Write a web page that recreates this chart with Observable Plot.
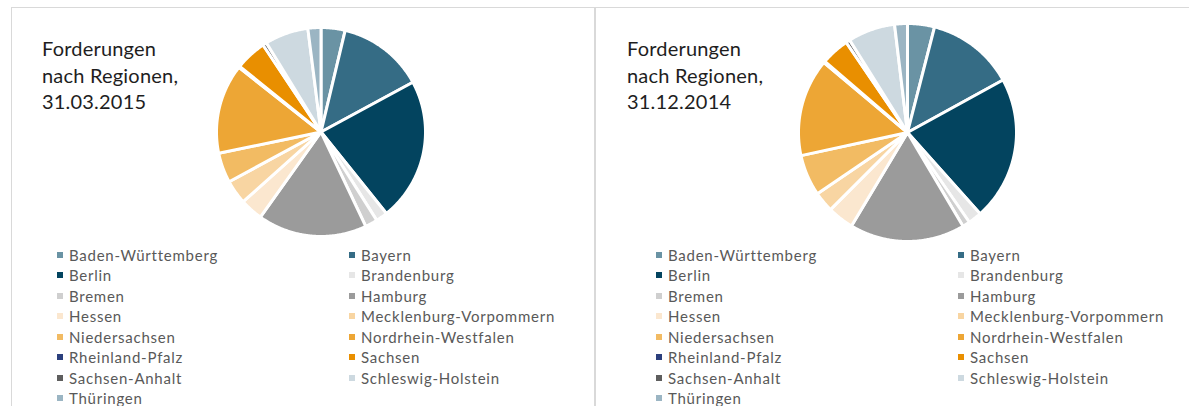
<!DOCTYPE html>
<html>
<head>
<meta charset="utf-8">
<script src="https://cdn.jsdelivr.net/npm/d3@7"></script>
<script src="https://cdn.jsdelivr.net/npm/@observablehq/plot@0.6"></script>
<style>
  html, body { margin: 0; padding: 0; background: #fff; }
  body { width: 1189px; height: 406px; position: relative; overflow: hidden; font-family: Lato, "Open Sans", sans-serif; }
  .panel { position: absolute; border: 1px solid #d9d9d9; box-sizing: border-box; }
  .title { position: absolute; font-size: 20px; line-height: 26.7px; color: #1e1e1e; letter-spacing: 0.2px; }
  .pie { position: absolute; }
  .leg { position: absolute; font-size: 15px; color: #595959; letter-spacing: 0.75px; white-space: nowrap; }
  .sw { position: absolute; width: 6px; height: 6px; }
</style>
</head>
<body>
<div id="root"></div>
<script>
// ---- data ----
const regions = ["Baden-Württemberg", "Bayern", "Berlin", "Brandenburg", "Bremen", "Hamburg", "Hessen",
  "Mecklenburg-Vorpommern", "Niedersachsen", "Nordrhein-Westfalen", "Rheinland-Pfalz", "Sachsen",
  "Sachsen-Anhalt", "Schleswig-Holstein", "Thüringen"];
const colors = ["#6a93a4", "#356c85", "#03445f", "#e6e6e6", "#cfcfcf", "#9b9b9b", "#fbe7cf",
  "#f8d5a2", "#f2bb63", "#eda635", "#2b3f7d", "#e98f00", "#5e5e5e", "#cdd9e0", "#9bb5c3"];
const values2015 = [3.7, 13.3, 22.0, 1.8, 1.9, 16.8, 3.5, 3.7, 4.6, 13.8, 0.2, 4.8, 0.6, 6.7, 2.0];
const values2014 = [4.0, 13.0, 21.4, 2.0, 1.1, 17.1, 3.9, 3.0, 6.1, 14.5, 0.2, 4.2, 0.6, 7.0, 1.9];
const titles2015 = ["Forderungen", "nach Regionen,", "31.03.2015"];
const titles2014 = ["Forderungen", "nach Regionen,", "31.12.2014"];

// ---- layout ----
const panels = [
  { left: 11, top: 7, w: 584, h: 420, title: titles2015, titleX: 42, values: values2015,
    cx: 320, cy: 131, r: 104.5, legX: [57, 349], legTextOff: 12 },
  { left: 595, top: 7, w: 620, h: 420, title: titles2014, titleX: 627, values: values2014,
    cx: 906.5, cy: 132, r: 109, legX: [656, 958], legTextOff: 12 }
];
const legRowY0 = 255, legRowDy = 20.45;

const root = document.getElementById("root");

function pieRows(values) {
  const total = d3.sum(values);
  const rows = [];
  let acc = 0;
  values.forEach((v, i) => {
    const a0 = acc / total * 2 * Math.PI;
    acc += v;
    const a1 = acc / total * 2 * Math.PI;
    const n = Math.max(2, Math.ceil((a1 - a0) / (Math.PI / 360)));
    rows.push({ region: regions[i], x: 0, y: 0 });
    for (let k = 0; k <= n; k++) {
      const a = a0 + (a1 - a0) * k / n;
      rows.push({ region: regions[i], x: Math.sin(a), y: Math.cos(a) });
    }
  });
  return rows;
}

panels.forEach(p => {
  const box = document.createElement("div");
  box.className = "panel";
  Object.assign(box.style, { left: p.left + "px", top: p.top + "px", width: p.w + "px", height: p.h + "px" });
  root.appendChild(box);

  const t = document.createElement("div");
  t.className = "title";
  t.style.left = p.titleX + "px";
  t.style.top = "35px";
  t.innerHTML = p.title.join("<br>");
  root.appendChild(t);

  const pad = 3;
  const size = 2 * p.r + 2 * pad;
  const chart = Plot.plot({
    width: size, height: size,
    margin: pad,
    x: { domain: [-1, 1], axis: null },
    y: { domain: [-1, 1], axis: null },
    color: { domain: regions, range: colors },
    marks: [
      Plot.line(pieRows(p.values), {
        x: "x", y: "y", z: "region", fill: "region",
        stroke: "white", strokeWidth: 3, strokeLinejoin: "round",
        curve: "linear-closed"
      })
    ]
  });
  const wrap = document.createElement("div");
  wrap.className = "pie";
  wrap.style.left = (p.cx - size / 2) + "px";
  wrap.style.top = (p.cy - size / 2) + "px";
  wrap.appendChild(chart);
  root.appendChild(wrap);

  regions.forEach((name, i) => {
    const col = i % 2, row = Math.floor(i / 2);
    const yc = legRowY0 + row * legRowDy;
    const sw = document.createElement("div");
    sw.className = "sw";
    sw.style.left = p.legX[col] + "px";
    sw.style.top = (yc - 3) + "px";
    sw.style.background = colors[i];
    root.appendChild(sw);
    const lab = document.createElement("div");
    lab.className = "leg";
    lab.textContent = name;
    lab.style.left = (p.legX[col] + p.legTextOff) + "px";
    lab.style.top = (yc - 10) + "px";
    lab.style.lineHeight = "20px";
    root.appendChild(lab);
  });
});
</script>
</body>
</html>
